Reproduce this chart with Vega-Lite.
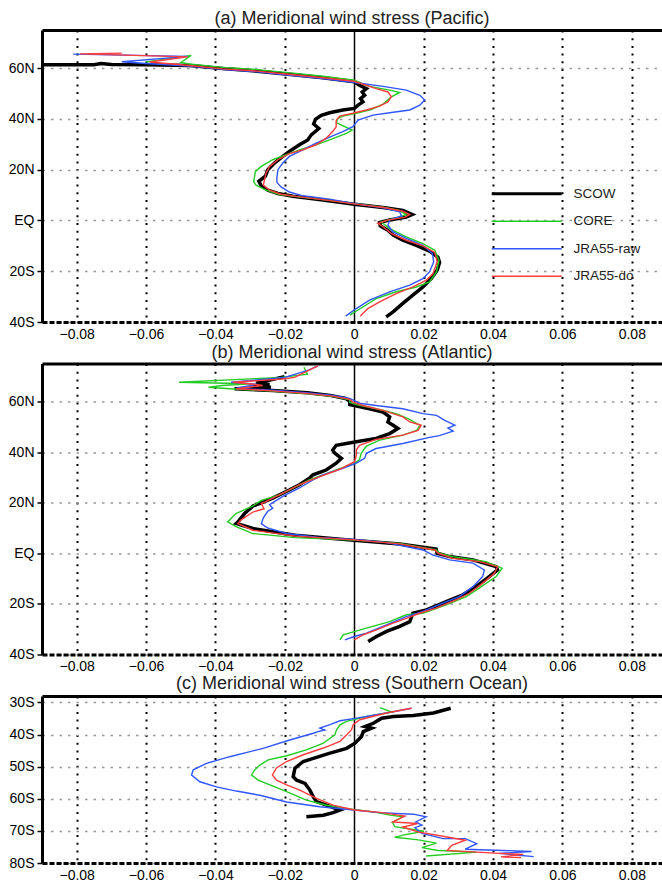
{
"$schema": "https://vega.github.io/schema/vega-lite/v6.json",
"padding": {"left": 8, "top": 10, "right": 0, "bottom": 0},
"bounds": "flush",
"spacing": 41.5,
"config": {
  "font": "Liberation Sans",
  "view": {"stroke": null},
  "title": {"font": "Liberation Sans", "fontSize": 18, "fontWeight": "normal", "color": "#222", "offset": 2, "anchor": "middle"},
  "axis": {"labelFont": "Liberation Sans", "labelFontSize": 14, "labelColor": "#000", "labelFlush": false, "labelOverlap": false}
},
"resolve": {"scale": {"color": "independent"}, "legend": {"color": "independent"}},
"datasets": {
"pac": [
{"s":"SCOW","t":-0.092,"lat":61.3},{"s":"SCOW","t":-0.075,"lat":61.3},{"s":"SCOW","t":-0.073,"lat":61.8},{"s":"SCOW","t":-0.07,"lat":61.4},{"s":"SCOW","t":-0.06,"lat":61.3},{"s":"SCOW","t":-0.0475,"lat":61.0},{"s":"SCOW","t":-0.038,"lat":59.8},{"s":"SCOW","t":-0.028,"lat":58.8},{"s":"SCOW","t":-0.019,"lat":57.6},{"s":"SCOW","t":-0.009,"lat":56.2},{"s":"SCOW","t":0,"lat":54.6},{"s":"SCOW","t":0.0015,"lat":53.2},{"s":"SCOW","t":0.0035,"lat":51.9},{"s":"SCOW","t":0.0023,"lat":50.6},{"s":"SCOW","t":0.003,"lat":49.3},{"s":"SCOW","t":0.0018,"lat":48.0},{"s":"SCOW","t":0.0025,"lat":46.7},{"s":"SCOW","t":0.0011,"lat":45.4},{"s":"SCOW","t":0,"lat":44.1},{"s":"SCOW","t":-0.0033,"lat":43.5},{"s":"SCOW","t":-0.0071,"lat":42.4},{"s":"SCOW","t":-0.0095,"lat":41.4},{"s":"SCOW","t":-0.0112,"lat":39.8},{"s":"SCOW","t":-0.0117,"lat":38.0},{"s":"SCOW","t":-0.0102,"lat":36.2},{"s":"SCOW","t":-0.0124,"lat":33.7},{"s":"SCOW","t":-0.0134,"lat":31.7},{"s":"SCOW","t":-0.0158,"lat":29.8},{"s":"SCOW","t":-0.0187,"lat":27.2},{"s":"SCOW","t":-0.0206,"lat":25.2},{"s":"SCOW","t":-0.023,"lat":22.6},{"s":"SCOW","t":-0.0249,"lat":20.0},{"s":"SCOW","t":-0.0256,"lat":17.4},{"s":"SCOW","t":-0.0275,"lat":15.4},{"s":"SCOW","t":-0.0268,"lat":13.6},{"s":"SCOW","t":-0.0249,"lat":11.9},{"s":"SCOW","t":-0.022,"lat":10.6},{"s":"SCOW","t":-0.0177,"lat":9.5},{"s":"SCOW","t":-0.009,"lat":8.0},{"s":"SCOW","t":0,"lat":6.4},{"s":"SCOW","t":0.0083,"lat":5.1},{"s":"SCOW","t":0.014,"lat":3.9},{"s":"SCOW","t":0.0167,"lat":2.3},{"s":"SCOW","t":0.015,"lat":1.3},{"s":"SCOW","t":0.0102,"lat":0.2},{"s":"SCOW","t":0.0073,"lat":-0.8},{"s":"SCOW","t":0.0075,"lat":-2.1},{"s":"SCOW","t":0.0097,"lat":-3.9},{"s":"SCOW","t":0.0112,"lat":-5.8},{"s":"SCOW","t":0.014,"lat":-7.8},{"s":"SCOW","t":0.0179,"lat":-9.8},{"s":"SCOW","t":0.0217,"lat":-12.1},{"s":"SCOW","t":0.0241,"lat":-14.4},{"s":"SCOW","t":0.0246,"lat":-16.6},{"s":"SCOW","t":0.0239,"lat":-19.6},{"s":"SCOW","t":0.0222,"lat":-22.9},{"s":"SCOW","t":0.0198,"lat":-26.2},{"s":"SCOW","t":0.0169,"lat":-29.4},{"s":"SCOW","t":0.014,"lat":-32.7},{"s":"SCOW","t":0.0112,"lat":-36.0},{"s":"SCOW","t":0.0092,"lat":-38.0},
{"s":"CORE","t":-0.06,"lat":62.4},{"s":"CORE","t":-0.047,"lat":65.0},{"s":"CORE","t":-0.05,"lat":62.2},{"s":"CORE","t":-0.0475,"lat":61.6},{"s":"CORE","t":-0.038,"lat":60.3},{"s":"CORE","t":-0.028,"lat":59.4},{"s":"CORE","t":-0.019,"lat":58.2},{"s":"CORE","t":-0.009,"lat":56.8},{"s":"CORE","t":0,"lat":55.2},{"s":"CORE","t":0.0044,"lat":52.8},{"s":"CORE","t":0.0102,"lat":51.3},{"s":"CORE","t":0.0131,"lat":50.4},{"s":"CORE","t":0.0107,"lat":48.7},{"s":"CORE","t":0.0083,"lat":45.8},{"s":"CORE","t":0.0049,"lat":43.7},{"s":"CORE","t":0.0006,"lat":42.2},{"s":"CORE","t":-0.0033,"lat":41.1},{"s":"CORE","t":-0.0047,"lat":40.2},{"s":"CORE","t":-0.0052,"lat":38.5},{"s":"CORE","t":-0.0006,"lat":35.6},{"s":"CORE","t":-0.0023,"lat":34.3},{"s":"CORE","t":-0.0071,"lat":31.7},{"s":"CORE","t":-0.011,"lat":29.8},{"s":"CORE","t":-0.0158,"lat":27.8},{"s":"CORE","t":-0.0196,"lat":25.9},{"s":"CORE","t":-0.0235,"lat":23.9},{"s":"CORE","t":-0.0268,"lat":21.3},{"s":"CORE","t":-0.0285,"lat":19.3},{"s":"CORE","t":-0.0288,"lat":16.7},{"s":"CORE","t":-0.029,"lat":15.2},{"s":"CORE","t":-0.0283,"lat":13.9},{"s":"CORE","t":-0.0254,"lat":11.9},{"s":"CORE","t":-0.0215,"lat":10.2},{"s":"CORE","t":-0.016,"lat":9.3},{"s":"CORE","t":-0.009,"lat":8.2},{"s":"CORE","t":0,"lat":6.6},{"s":"CORE","t":0.0083,"lat":5.2},{"s":"CORE","t":0.013,"lat":3.9},{"s":"CORE","t":0.015,"lat":2.3},{"s":"CORE","t":0.012,"lat":1.0},{"s":"CORE","t":0.0078,"lat":-0.6},{"s":"CORE","t":0.0102,"lat":-3.2},{"s":"CORE","t":0.015,"lat":-6.5},{"s":"CORE","t":0.0198,"lat":-9.1},{"s":"CORE","t":0.0232,"lat":-11.7},{"s":"CORE","t":0.0244,"lat":-15.7},{"s":"CORE","t":0.0237,"lat":-20.3},{"s":"CORE","t":0.0217,"lat":-24.2},{"s":"CORE","t":0.0179,"lat":-26.2},{"s":"CORE","t":0.0121,"lat":-28.1},{"s":"CORE","t":0.0063,"lat":-30.8},{"s":"CORE","t":0.0025,"lat":-34.1},{"s":"CORE","t":-0.0013,"lat":-37.3},
{"s":"JRA55-raw","t":-0.081,"lat":65.5},{"s":"JRA55-raw","t":-0.048,"lat":64.6},{"s":"JRA55-raw","t":-0.067,"lat":62.5},{"s":"JRA55-raw","t":-0.06,"lat":61.8},{"s":"JRA55-raw","t":-0.0475,"lat":60.8},{"s":"JRA55-raw","t":-0.038,"lat":59.5},{"s":"JRA55-raw","t":-0.028,"lat":58.5},{"s":"JRA55-raw","t":-0.019,"lat":57.3},{"s":"JRA55-raw","t":-0.009,"lat":55.9},{"s":"JRA55-raw","t":0,"lat":54.3},{"s":"JRA55-raw","t":0.0083,"lat":52.8},{"s":"JRA55-raw","t":0.015,"lat":51.3},{"s":"JRA55-raw","t":0.0189,"lat":49.3},{"s":"JRA55-raw","t":0.0203,"lat":47.4},{"s":"JRA55-raw","t":0.0189,"lat":45.4},{"s":"JRA55-raw","t":0.016,"lat":43.5},{"s":"JRA55-raw","t":0.0102,"lat":42.4},{"s":"JRA55-raw","t":0.0054,"lat":41.5},{"s":"JRA55-raw","t":0.0011,"lat":39.5},{"s":"JRA55-raw","t":-0.0004,"lat":36.9},{"s":"JRA55-raw","t":-0.0033,"lat":35.0},{"s":"JRA55-raw","t":-0.0071,"lat":32.8},{"s":"JRA55-raw","t":-0.011,"lat":30.4},{"s":"JRA55-raw","t":-0.0148,"lat":27.8},{"s":"JRA55-raw","t":-0.0187,"lat":25.2},{"s":"JRA55-raw","t":-0.0206,"lat":22.6},{"s":"JRA55-raw","t":-0.022,"lat":20.0},{"s":"JRA55-raw","t":-0.0223,"lat":16.7},{"s":"JRA55-raw","t":-0.0223,"lat":15.0},{"s":"JRA55-raw","t":-0.0211,"lat":13.2},{"s":"JRA55-raw","t":-0.0187,"lat":11.2},{"s":"JRA55-raw","t":-0.0148,"lat":9.7},{"s":"JRA55-raw","t":-0.0071,"lat":8.4},{"s":"JRA55-raw","t":0,"lat":6.6},{"s":"JRA55-raw","t":0.0083,"lat":5.0},{"s":"JRA55-raw","t":0.0131,"lat":3.4},{"s":"JRA55-raw","t":0.0136,"lat":1.8},{"s":"JRA55-raw","t":0.0102,"lat":0.2},{"s":"JRA55-raw","t":0.0097,"lat":-1.9},{"s":"JRA55-raw","t":0.0112,"lat":-4.5},{"s":"JRA55-raw","t":0.015,"lat":-7.1},{"s":"JRA55-raw","t":0.0198,"lat":-9.8},{"s":"JRA55-raw","t":0.0225,"lat":-13.0},{"s":"JRA55-raw","t":0.0229,"lat":-16.3},{"s":"JRA55-raw","t":0.0217,"lat":-20.3},{"s":"JRA55-raw","t":0.0198,"lat":-22.9},{"s":"JRA55-raw","t":0.016,"lat":-25.5},{"s":"JRA55-raw","t":0.0102,"lat":-28.1},{"s":"JRA55-raw","t":0.0044,"lat":-31.4},{"s":"JRA55-raw","t":0.0006,"lat":-34.7},{"s":"JRA55-raw","t":-0.0025,"lat":-37.7},
{"s":"JRA55-do","t":-0.067,"lat":65.9},{"s":"JRA55-do","t":-0.079,"lat":65.6},{"s":"JRA55-do","t":-0.048,"lat":64.4},{"s":"JRA55-do","t":-0.059,"lat":62.4},{"s":"JRA55-do","t":-0.0475,"lat":61.0},{"s":"JRA55-do","t":-0.038,"lat":59.7},{"s":"JRA55-do","t":-0.028,"lat":58.8},{"s":"JRA55-do","t":-0.019,"lat":57.6},{"s":"JRA55-do","t":-0.009,"lat":56.2},{"s":"JRA55-do","t":0,"lat":54.8},{"s":"JRA55-do","t":0.0063,"lat":51.9},{"s":"JRA55-do","t":0.0097,"lat":50.6},{"s":"JRA55-do","t":0.0107,"lat":48.7},{"s":"JRA55-do","t":0.0097,"lat":46.7},{"s":"JRA55-do","t":0.0073,"lat":45.0},{"s":"JRA55-do","t":0.0035,"lat":43.5},{"s":"JRA55-do","t":-0.0004,"lat":42.2},{"s":"JRA55-do","t":-0.0042,"lat":41.1},{"s":"JRA55-do","t":-0.0052,"lat":39.5},{"s":"JRA55-do","t":-0.0052,"lat":36.9},{"s":"JRA55-do","t":-0.0062,"lat":35.0},{"s":"JRA55-do","t":-0.0081,"lat":32.4},{"s":"JRA55-do","t":-0.011,"lat":29.8},{"s":"JRA55-do","t":-0.0148,"lat":27.8},{"s":"JRA55-do","t":-0.0187,"lat":26.3},{"s":"JRA55-do","t":-0.022,"lat":23.9},{"s":"JRA55-do","t":-0.0244,"lat":21.3},{"s":"JRA55-do","t":-0.0254,"lat":18.7},{"s":"JRA55-do","t":-0.0259,"lat":15.8},{"s":"JRA55-do","t":-0.0262,"lat":13.9},{"s":"JRA55-do","t":-0.0244,"lat":11.9},{"s":"JRA55-do","t":-0.0211,"lat":10.3},{"s":"JRA55-do","t":-0.0158,"lat":9.3},{"s":"JRA55-do","t":-0.008,"lat":8.0},{"s":"JRA55-do","t":0,"lat":6.5},{"s":"JRA55-do","t":0.0085,"lat":5.1},{"s":"JRA55-do","t":0.014,"lat":3.6},{"s":"JRA55-do","t":0.016,"lat":2.3},{"s":"JRA55-do","t":0.0145,"lat":1.2},{"s":"JRA55-do","t":0.0095,"lat":0.1},{"s":"JRA55-do","t":0.0068,"lat":-1.2},{"s":"JRA55-do","t":0.0083,"lat":-2.5},{"s":"JRA55-do","t":0.0107,"lat":-5.2},{"s":"JRA55-do","t":0.015,"lat":-7.8},{"s":"JRA55-do","t":0.0198,"lat":-10.0},{"s":"JRA55-do","t":0.0232,"lat":-12.6},{"s":"JRA55-do","t":0.0239,"lat":-16.3},{"s":"JRA55-do","t":0.0227,"lat":-20.9},{"s":"JRA55-do","t":0.0208,"lat":-23.5},{"s":"JRA55-do","t":0.0169,"lat":-26.2},{"s":"JRA55-do","t":0.0121,"lat":-28.8},{"s":"JRA55-do","t":0.0073,"lat":-32.1},{"s":"JRA55-do","t":0.0039,"lat":-34.7},{"s":"JRA55-do","t":0.0017,"lat":-37.7}
],
"atl": [
{"s":"SCOW","t":-0.0201,"lat":69.8},{"s":"SCOW","t":-0.0283,"lat":67.2},{"s":"SCOW","t":-0.0244,"lat":66.7},{"s":"SCOW","t":-0.0292,"lat":66.1},{"s":"SCOW","t":-0.024,"lat":65.6},{"s":"SCOW","t":-0.0345,"lat":65.0},{"s":"SCOW","t":-0.0235,"lat":64.3},{"s":"SCOW","t":-0.0135,"lat":63.4},{"s":"SCOW","t":-0.007,"lat":62.4},{"s":"SCOW","t":-0.0025,"lat":61.2},{"s":"SCOW","t":-0.0013,"lat":60.1},{"s":"SCOW","t":-0.0013,"lat":58.8},{"s":"SCOW","t":0.0044,"lat":57.1},{"s":"SCOW","t":0.0083,"lat":55.8},{"s":"SCOW","t":0.0102,"lat":53.9},{"s":"SCOW","t":0.0097,"lat":51.9},{"s":"SCOW","t":0.0112,"lat":50.6},{"s":"SCOW","t":0.0126,"lat":49.3},{"s":"SCOW","t":0.0102,"lat":47.3},{"s":"SCOW","t":0.0063,"lat":45.4},{"s":"SCOW","t":0.0006,"lat":44.1},{"s":"SCOW","t":-0.0052,"lat":42.7},{"s":"SCOW","t":-0.0062,"lat":40.8},{"s":"SCOW","t":-0.0057,"lat":39.7},{"s":"SCOW","t":-0.0037,"lat":37.5},{"s":"SCOW","t":-0.0052,"lat":35.6},{"s":"SCOW","t":-0.0081,"lat":32.9},{"s":"SCOW","t":-0.0119,"lat":31.0},{"s":"SCOW","t":-0.0129,"lat":29.7},{"s":"SCOW","t":-0.0158,"lat":27.1},{"s":"SCOW","t":-0.0196,"lat":24.4},{"s":"SCOW","t":-0.0235,"lat":21.8},{"s":"SCOW","t":-0.0268,"lat":19.9},{"s":"SCOW","t":-0.0292,"lat":18.7},{"s":"SCOW","t":-0.0316,"lat":15.7},{"s":"SCOW","t":-0.0335,"lat":12.4},{"s":"SCOW","t":-0.034,"lat":11.8},{"s":"SCOW","t":-0.0292,"lat":9.8},{"s":"SCOW","t":-0.017,"lat":7.1},{"s":"SCOW","t":0,"lat":5.1},{"s":"SCOW","t":0.0131,"lat":3.7},{"s":"SCOW","t":0.0236,"lat":1.7},{"s":"SCOW","t":0.0239,"lat":0},{"s":"SCOW","t":0.0275,"lat":-1.3},{"s":"SCOW","t":0.0342,"lat":-2.6},{"s":"SCOW","t":0.0409,"lat":-5.3},{"s":"SCOW","t":0.0413,"lat":-6.6},{"s":"SCOW","t":0.0389,"lat":-9.2},{"s":"SCOW","t":0.0351,"lat":-13.2},{"s":"SCOW","t":0.0313,"lat":-16.4},{"s":"SCOW","t":0.0265,"lat":-19.1},{"s":"SCOW","t":0.0208,"lat":-22.4},{"s":"SCOW","t":0.0169,"lat":-23.7},{"s":"SCOW","t":0.016,"lat":-27.0},{"s":"SCOW","t":0.0131,"lat":-28.9},{"s":"SCOW","t":0.0093,"lat":-30.9},{"s":"SCOW","t":0.0064,"lat":-32.9},{"s":"SCOW","t":0.004,"lat":-34.9},
{"s":"CORE","t":-0.0145,"lat":73.5},{"s":"CORE","t":-0.0135,"lat":70.8},{"s":"CORE","t":-0.021,"lat":69.5},{"s":"CORE","t":-0.0505,"lat":67.6},{"s":"CORE","t":-0.03,"lat":67.0},{"s":"CORE","t":-0.038,"lat":66.3},{"s":"CORE","t":-0.042,"lat":65.6},{"s":"CORE","t":-0.036,"lat":65.0},{"s":"CORE","t":-0.0235,"lat":64.1},{"s":"CORE","t":-0.0139,"lat":63.1},{"s":"CORE","t":-0.0062,"lat":62.0},{"s":"CORE","t":-0.0013,"lat":60.6},{"s":"CORE","t":-0.0013,"lat":59.7},{"s":"CORE","t":0.0006,"lat":58.8},{"s":"CORE","t":0.0063,"lat":57.1},{"s":"CORE","t":0.0121,"lat":55.2},{"s":"CORE","t":0.0155,"lat":53.2},{"s":"CORE","t":0.0189,"lat":50.6},{"s":"CORE","t":0.018,"lat":48.6},{"s":"CORE","t":0.014,"lat":46.7},{"s":"CORE","t":0.0073,"lat":44.7},{"s":"CORE","t":0.0035,"lat":42.4},{"s":"CORE","t":0.002,"lat":39.5},{"s":"CORE","t":0.0015,"lat":36.9},{"s":"CORE","t":0.0001,"lat":35.6},{"s":"CORE","t":-0.0052,"lat":32.9},{"s":"CORE","t":-0.0129,"lat":29.0},{"s":"CORE","t":-0.0167,"lat":26.4},{"s":"CORE","t":-0.0215,"lat":23.1},{"s":"CORE","t":-0.0268,"lat":20.9},{"s":"CORE","t":-0.0292,"lat":18.7},{"s":"CORE","t":-0.0341,"lat":15.7},{"s":"CORE","t":-0.0365,"lat":12.4},{"s":"CORE","t":-0.0341,"lat":10.5},{"s":"CORE","t":-0.0292,"lat":7.8},{"s":"CORE","t":-0.017,"lat":6.2},{"s":"CORE","t":0,"lat":5.2},{"s":"CORE","t":0.0131,"lat":3.9},{"s":"CORE","t":0.0236,"lat":1.3},{"s":"CORE","t":0.0246,"lat":0},{"s":"CORE","t":0.0284,"lat":-1.3},{"s":"CORE","t":0.038,"lat":-3.3},{"s":"CORE","t":0.0426,"lat":-5.9},{"s":"CORE","t":0.0409,"lat":-9.2},{"s":"CORE","t":0.0366,"lat":-13.2},{"s":"CORE","t":0.0323,"lat":-17.1},{"s":"CORE","t":0.0265,"lat":-20.4},{"s":"CORE","t":0.0198,"lat":-23.7},{"s":"CORE","t":0.015,"lat":-24.3},{"s":"CORE","t":0.0102,"lat":-27.0},{"s":"CORE","t":0.0035,"lat":-29.6},{"s":"CORE","t":-0.0032,"lat":-32.2},{"s":"CORE","t":-0.0041,"lat":-34.2},
{"s":"JRA55-raw","t":-0.0105,"lat":74.1},{"s":"JRA55-raw","t":-0.013,"lat":72.5},{"s":"JRA55-raw","t":-0.02,"lat":69.5},{"s":"JRA55-raw","t":-0.0355,"lat":67.6},{"s":"JRA55-raw","t":-0.028,"lat":66.8},{"s":"JRA55-raw","t":-0.034,"lat":65.2},{"s":"JRA55-raw","t":-0.0235,"lat":64.4},{"s":"JRA55-raw","t":-0.0139,"lat":63.5},{"s":"JRA55-raw","t":-0.0062,"lat":62.4},{"s":"JRA55-raw","t":-0.0013,"lat":61.2},{"s":"JRA55-raw","t":0.0015,"lat":59.3},{"s":"JRA55-raw","t":0.0063,"lat":58.4},{"s":"JRA55-raw","t":0.014,"lat":57.1},{"s":"JRA55-raw","t":0.0198,"lat":55.2},{"s":"JRA55-raw","t":0.0237,"lat":54.5},{"s":"JRA55-raw","t":0.0261,"lat":52.5},{"s":"JRA55-raw","t":0.029,"lat":50.6},{"s":"JRA55-raw","t":0.027,"lat":49.5},{"s":"JRA55-raw","t":0.0285,"lat":48.3},{"s":"JRA55-raw","t":0.0245,"lat":46.5},{"s":"JRA55-raw","t":0.0217,"lat":45.8},{"s":"JRA55-raw","t":0.014,"lat":43.4},{"s":"JRA55-raw","t":0.0063,"lat":41.4},{"s":"JRA55-raw","t":0.0035,"lat":39.5},{"s":"JRA55-raw","t":0.003,"lat":37.5},{"s":"JRA55-raw","t":0.0006,"lat":35.6},{"s":"JRA55-raw","t":-0.0033,"lat":33.6},{"s":"JRA55-raw","t":-0.009,"lat":31.0},{"s":"JRA55-raw","t":-0.0119,"lat":29.0},{"s":"JRA55-raw","t":-0.0158,"lat":25.8},{"s":"JRA55-raw","t":-0.0206,"lat":22.5},{"s":"JRA55-raw","t":-0.0244,"lat":19.2},{"s":"JRA55-raw","t":-0.0235,"lat":17.8},{"s":"JRA55-raw","t":-0.025,"lat":16.5},{"s":"JRA55-raw","t":-0.0262,"lat":14.0},{"s":"JRA55-raw","t":-0.0268,"lat":11.7},{"s":"JRA55-raw","t":-0.025,"lat":10.0},{"s":"JRA55-raw","t":-0.0195,"lat":7.8},{"s":"JRA55-raw","t":-0.0097,"lat":6.2},{"s":"JRA55-raw","t":0,"lat":5.5},{"s":"JRA55-raw","t":0.0093,"lat":4.2},{"s":"JRA55-raw","t":0.0198,"lat":1.3},{"s":"JRA55-raw","t":0.0227,"lat":-0.7},{"s":"JRA55-raw","t":0.0275,"lat":-2.6},{"s":"JRA55-raw","t":0.0342,"lat":-3.9},{"s":"JRA55-raw","t":0.0375,"lat":-6.6},{"s":"JRA55-raw","t":0.037,"lat":-9.2},{"s":"JRA55-raw","t":0.0342,"lat":-13.2},{"s":"JRA55-raw","t":0.0303,"lat":-17.1},{"s":"JRA55-raw","t":0.0255,"lat":-19.7},{"s":"JRA55-raw","t":0.0198,"lat":-23.0},{"s":"JRA55-raw","t":0.015,"lat":-25.0},{"s":"JRA55-raw","t":0.0093,"lat":-28.3},{"s":"JRA55-raw","t":0.0035,"lat":-31.6},{"s":"JRA55-raw","t":0,"lat":-32.9},{"s":"JRA55-raw","t":-0.0027,"lat":-34.2},
{"s":"JRA55-do","t":-0.0105,"lat":74.1},{"s":"JRA55-do","t":-0.0172,"lat":69.5},{"s":"JRA55-do","t":-0.0206,"lat":68.9},{"s":"JRA55-do","t":-0.035,"lat":67.6},{"s":"JRA55-do","t":-0.029,"lat":66.8},{"s":"JRA55-do","t":-0.0264,"lat":66.3},{"s":"JRA55-do","t":-0.034,"lat":65.0},{"s":"JRA55-do","t":-0.0235,"lat":64.2},{"s":"JRA55-do","t":-0.0139,"lat":63.2},{"s":"JRA55-do","t":-0.0062,"lat":62.1},{"s":"JRA55-do","t":-0.0013,"lat":60.8},{"s":"JRA55-do","t":-0.0004,"lat":59.7},{"s":"JRA55-do","t":0.0025,"lat":58.4},{"s":"JRA55-do","t":0.0083,"lat":56.5},{"s":"JRA55-do","t":0.014,"lat":53.9},{"s":"JRA55-do","t":0.016,"lat":51.9},{"s":"JRA55-do","t":0.0193,"lat":50.6},{"s":"JRA55-do","t":0.0184,"lat":48.6},{"s":"JRA55-do","t":0.014,"lat":46.7},{"s":"JRA55-do","t":0.0063,"lat":45.0},{"s":"JRA55-do","t":0.0015,"lat":42.7},{"s":"JRA55-do","t":0.0006,"lat":40.8},{"s":"JRA55-do","t":0.0006,"lat":38.8},{"s":"JRA55-do","t":0.0001,"lat":36.2},{"s":"JRA55-do","t":-0.0042,"lat":33.2},{"s":"JRA55-do","t":-0.011,"lat":29.7},{"s":"JRA55-do","t":-0.0158,"lat":27.1},{"s":"JRA55-do","t":-0.0206,"lat":23.8},{"s":"JRA55-do","t":-0.0254,"lat":20.5},{"s":"JRA55-do","t":-0.0268,"lat":19.6},{"s":"JRA55-do","t":-0.026,"lat":17.6},{"s":"JRA55-do","t":-0.0292,"lat":16.3},{"s":"JRA55-do","t":-0.0328,"lat":13.0},{"s":"JRA55-do","t":-0.0335,"lat":11.7},{"s":"JRA55-do","t":-0.0292,"lat":9.1},{"s":"JRA55-do","t":-0.017,"lat":6.8},{"s":"JRA55-do","t":0,"lat":5.3},{"s":"JRA55-do","t":0.0131,"lat":3.7},{"s":"JRA55-do","t":0.0232,"lat":1.3},{"s":"JRA55-do","t":0.0242,"lat":0},{"s":"JRA55-do","t":0.0284,"lat":-2.0},{"s":"JRA55-do","t":0.0361,"lat":-3.3},{"s":"JRA55-do","t":0.0413,"lat":-5.3},{"s":"JRA55-do","t":0.0404,"lat":-7.9},{"s":"JRA55-do","t":0.037,"lat":-11.8},{"s":"JRA55-do","t":0.0332,"lat":-15.8},{"s":"JRA55-do","t":0.0294,"lat":-18.4},{"s":"JRA55-do","t":0.0236,"lat":-21.7},{"s":"JRA55-do","t":0.0188,"lat":-23.7},{"s":"JRA55-do","t":0.015,"lat":-25.7},{"s":"JRA55-do","t":0.0112,"lat":-27.6},{"s":"JRA55-do","t":0.0064,"lat":-30.3},{"s":"JRA55-do","t":0.0026,"lat":-32.2},{"s":"JRA55-do","t":0,"lat":-34.2}
],
"so": [
{"s":"SCOW","t":0.0278,"lat":-31.8},{"s":"SCOW","t":0.0228,"lat":-33.3},{"s":"SCOW","t":0.017,"lat":-34.1},{"s":"SCOW","t":0.0113,"lat":-34.4},{"s":"SCOW","t":0.0079,"lat":-34.9},{"s":"SCOW","t":0.0055,"lat":-36.5},{"s":"SCOW","t":0.0031,"lat":-37.5},{"s":"SCOW","t":0.005,"lat":-38.0},{"s":"SCOW","t":0.0026,"lat":-39.1},{"s":"SCOW","t":0.0021,"lat":-40.6},{"s":"SCOW","t":0.0002,"lat":-42.7},{"s":"SCOW","t":-0.0022,"lat":-44.3},{"s":"SCOW","t":-0.007,"lat":-45.8},{"s":"SCOW","t":-0.0118,"lat":-47.4},{"s":"SCOW","t":-0.0147,"lat":-48.4},{"s":"SCOW","t":-0.0171,"lat":-50.5},{"s":"SCOW","t":-0.0176,"lat":-53.1},{"s":"SCOW","t":-0.0166,"lat":-54.2},{"s":"SCOW","t":-0.0142,"lat":-55.2},{"s":"SCOW","t":-0.0128,"lat":-57.3},{"s":"SCOW","t":-0.0118,"lat":-59.4},{"s":"SCOW","t":-0.0109,"lat":-60.9},{"s":"SCOW","t":-0.008,"lat":-62.0},{"s":"SCOW","t":-0.0041,"lat":-63.5},{"s":"SCOW","t":-0.0061,"lat":-64.3},{"s":"SCOW","t":-0.0089,"lat":-65.1},{"s":"SCOW","t":-0.0138,"lat":-65.6},
{"s":"CORE","t":0.0074,"lat":-31.6},{"s":"CORE","t":0.0108,"lat":-33.0},{"s":"CORE","t":0.0036,"lat":-34.4},{"s":"CORE","t":-0.0022,"lat":-35.9},{"s":"CORE","t":-0.0041,"lat":-37.0},{"s":"CORE","t":-0.0051,"lat":-38.5},{"s":"CORE","t":-0.0056,"lat":-40.1},{"s":"CORE","t":-0.0089,"lat":-42.7},{"s":"CORE","t":-0.0138,"lat":-44.8},{"s":"CORE","t":-0.0195,"lat":-46.6},{"s":"CORE","t":-0.0248,"lat":-47.9},{"s":"CORE","t":-0.0272,"lat":-49.5},{"s":"CORE","t":-0.0287,"lat":-51.0},{"s":"CORE","t":-0.0296,"lat":-52.6},{"s":"CORE","t":-0.0277,"lat":-54.2},{"s":"CORE","t":-0.0243,"lat":-55.7},{"s":"CORE","t":-0.0195,"lat":-57.8},{"s":"CORE","t":-0.0138,"lat":-60.4},{"s":"CORE","t":-0.008,"lat":-62.0},{"s":"CORE","t":-0.0003,"lat":-63.3},{"s":"CORE","t":0.0055,"lat":-64.1},{"s":"CORE","t":0.0103,"lat":-65.1},{"s":"CORE","t":0.014,"lat":-65.6},{"s":"CORE","t":0.011,"lat":-67.3},{"s":"CORE","t":0.0117,"lat":-68.7},{"s":"CORE","t":0.0201,"lat":-70.1},{"s":"CORE","t":0.014,"lat":-71.3},{"s":"CORE","t":0.0117,"lat":-72.0},{"s":"CORE","t":0.0185,"lat":-72.8},{"s":"CORE","t":0.0237,"lat":-73.8},{"s":"CORE","t":0.0195,"lat":-75.2},{"s":"CORE","t":0.0241,"lat":-76.1},{"s":"CORE","t":0.0353,"lat":-76.6},{"s":"CORE","t":0.0207,"lat":-77.8},
{"s":"JRA55-raw","t":0.0165,"lat":-31.8},{"s":"JRA55-raw","t":0.0093,"lat":-33.3},{"s":"JRA55-raw","t":0.0007,"lat":-34.9},{"s":"JRA55-raw","t":-0.0041,"lat":-35.7},{"s":"JRA55-raw","t":-0.007,"lat":-36.9},{"s":"JRA55-raw","t":-0.0099,"lat":-38.0},{"s":"JRA55-raw","t":-0.0085,"lat":-38.6},{"s":"JRA55-raw","t":-0.0104,"lat":-39.1},{"s":"JRA55-raw","t":-0.0118,"lat":-39.6},{"s":"JRA55-raw","t":-0.0186,"lat":-41.7},{"s":"JRA55-raw","t":-0.0263,"lat":-44.3},{"s":"JRA55-raw","t":-0.0359,"lat":-46.9},{"s":"JRA55-raw","t":-0.0426,"lat":-49.0},{"s":"JRA55-raw","t":-0.0464,"lat":-51.0},{"s":"JRA55-raw","t":-0.0469,"lat":-52.6},{"s":"JRA55-raw","t":-0.0445,"lat":-54.7},{"s":"JRA55-raw","t":-0.0397,"lat":-56.3},{"s":"JRA55-raw","t":-0.034,"lat":-57.6},{"s":"JRA55-raw","t":-0.0272,"lat":-58.9},{"s":"JRA55-raw","t":-0.0195,"lat":-61.0},{"s":"JRA55-raw","t":-0.0099,"lat":-62.5},{"s":"JRA55-raw","t":0,"lat":-63.5},{"s":"JRA55-raw","t":0.0074,"lat":-64.3},{"s":"JRA55-raw","t":0.017,"lat":-64.8},{"s":"JRA55-raw","t":0.0207,"lat":-65.6},{"s":"JRA55-raw","t":0.0177,"lat":-67.2},{"s":"JRA55-raw","t":0.0195,"lat":-68.2},{"s":"JRA55-raw","t":0.0175,"lat":-69.0},{"s":"JRA55-raw","t":0.0195,"lat":-70.8},{"s":"JRA55-raw","t":0.0256,"lat":-72.4},{"s":"JRA55-raw","t":0.032,"lat":-72.4},{"s":"JRA55-raw","t":0.0353,"lat":-74.0},{"s":"JRA55-raw","t":0.032,"lat":-75.7},{"s":"JRA55-raw","t":0.0511,"lat":-76.4},{"s":"JRA55-raw","t":0.0417,"lat":-77.0},{"s":"JRA55-raw","t":0.0517,"lat":-78.0},
{"s":"JRA55-do","t":0.0165,"lat":-31.8},{"s":"JRA55-do","t":0.0093,"lat":-33.3},{"s":"JRA55-do","t":0.0016,"lat":-35.4},{"s":"JRA55-do","t":-0.0003,"lat":-36.9},{"s":"JRA55-do","t":-0.0008,"lat":-38.5},{"s":"JRA55-do","t":-0.0022,"lat":-40.1},{"s":"JRA55-do","t":-0.0041,"lat":-42.1},{"s":"JRA55-do","t":-0.0089,"lat":-44.2},{"s":"JRA55-do","t":-0.0147,"lat":-46.3},{"s":"JRA55-do","t":-0.0195,"lat":-48.4},{"s":"JRA55-do","t":-0.0224,"lat":-50.4},{"s":"JRA55-do","t":-0.0236,"lat":-52.6},{"s":"JRA55-do","t":-0.0224,"lat":-54.2},{"s":"JRA55-do","t":-0.0195,"lat":-55.7},{"s":"JRA55-do","t":-0.0157,"lat":-57.3},{"s":"JRA55-do","t":-0.0109,"lat":-59.9},{"s":"JRA55-do","t":-0.0061,"lat":-62.0},{"s":"JRA55-do","t":0,"lat":-63.5},{"s":"JRA55-do","t":0.008,"lat":-64.3},{"s":"JRA55-do","t":0.0146,"lat":-65.4},{"s":"JRA55-do","t":0.0111,"lat":-67.2},{"s":"JRA55-do","t":0.0183,"lat":-67.7},{"s":"JRA55-do","t":0.014,"lat":-68.8},{"s":"JRA55-do","t":0.0183,"lat":-70.3},{"s":"JRA55-do","t":0.0268,"lat":-71.9},{"s":"JRA55-do","t":0.032,"lat":-72.9},{"s":"JRA55-do","t":0.0281,"lat":-74.5},{"s":"JRA55-do","t":0.0268,"lat":-76.1},{"s":"JRA55-do","t":0.0417,"lat":-77.0},{"s":"JRA55-do","t":0.0487,"lat":-77.3},{"s":"JRA55-do","t":0.0423,"lat":-78.1},{"s":"JRA55-do","t":0.0481,"lat":-78.3}
]
},
"vconcat": [
{
  "title": "(a) Meridional wind stress (Pacific)",
  "width": 620, "height": 292,
  "data": {"name": "pac"},
  "resolve": {"axis": {"x": "independent"}},
  "encoding": {
    "y": {"field": "lat", "type": "quantitative", "scale": {"domain": [-40, 75], "nice": false, "zero": false},
      "axis": {"title": null, "values": [-40,-20,0,20,40,60], "labelExpr": "datum.value == 0 ? 'EQ' : (abs(datum.value) + (datum.value > 0 ? 'N' : 'S'))", "tickColor": "#000", "tickSize": 5, "tickWidth": 1.5, "labelPadding": 3, "domainColor": "#000", "domainWidth": 3, "grid": true, "gridColor": "#999", "gridDash": [2.5, 6], "gridWidth": 1.5}},
    "order": {"value": null}
  },
  "layer": [
    {
      "transform": [{"filter": "datum.s == 'SCOW'"}],
      "mark": {"type": "line", "clip": true, "color": "#000", "strokeWidth": 3.5},
      "encoding": {
        "x": {"field": "t", "type": "quantitative", "scale": {"domain": [-0.09, 0.0887], "nice": false, "zero": false},
          "axis": {"orient": "bottom", "title": null, "values": [-0.08,-0.06,-0.04,-0.02,0,0.02,0.04,0.06,0.08], "labelExpr": "datum.value == 0 ? '0' : format(datum.value, '.2f')", "ticks": false, "labelPadding": 5, "domainColor": "#000", "domainWidth": 3, "domainDash": [5, 2], "grid": true, "gridColor": "#000", "gridDash": {"condition": {"test": "datum.value == 0", "value": []}, "value": [2, 5.7]}, "gridWidth": {"condition": {"test": "datum.value == 0", "value": 1.5}, "value": 2}}}
      }
    },
    {
      "transform": [{"filter": "datum.s != 'SCOW'"}],
      "mark": {"type": "line", "clip": true, "strokeWidth": 1.4},
      "encoding": {
        "x": {"field": "t", "type": "quantitative", "scale": {"domain": [-0.09, 0.0887], "nice": false, "zero": false},
          "axis": {"orient": "top", "title": null, "labels": false, "ticks": false, "grid": false, "domainColor": "#000", "domainWidth": 3}},
        "color": {"field": "s", "type": "nominal",
          "scale": {"domain": ["SCOW","CORE","JRA55-raw","JRA55-do"], "range": ["#000000","#22cc22","#2f55ff","#ff3b3b"]},
          "legend": {"orient": "none", "legendX": 451, "legendY": 157, "title": null, "symbolType": "stroke", "symbolSize": 4900, "symbolStrokeWidth": 1.5, "symbolOffset": 27, "labelFont": "Liberation Sans", "labelFontSize": 13.5, "labelColor": "#222", "labelOffset": 40, "rowPadding": 12.5, "padding": 0,
            "encode": {"symbols": {"update": {"strokeWidth": {"signal": "datum.value === 'SCOW' ? 3 : 1.5"}}}}}}
      }
    }
  ]
},
{
  "title": "(b) Meridional wind stress (Atlantic)",
  "width": 620, "height": 291,
  "data": {"name": "atl"},
  "resolve": {"axis": {"x": "independent"}},
  "encoding": {
    "y": {"field": "lat", "type": "quantitative", "scale": {"domain": [-40, 75], "nice": false, "zero": false},
      "axis": {"title": null, "values": [-40,-20,0,20,40,60], "labelExpr": "datum.value == 0 ? 'EQ' : (abs(datum.value) + (datum.value > 0 ? 'N' : 'S'))", "tickColor": "#000", "tickSize": 5, "tickWidth": 1.5, "labelPadding": 3, "domainColor": "#000", "domainWidth": 3, "grid": true, "gridColor": "#999", "gridDash": [2.5, 6], "gridWidth": 1.5}},
    "order": {"value": null}
  },
  "layer": [
    {
      "transform": [{"filter": "datum.s == 'SCOW'"}],
      "mark": {"type": "line", "clip": true, "color": "#000", "strokeWidth": 3.5},
      "encoding": {
        "x": {"field": "t", "type": "quantitative", "scale": {"domain": [-0.09, 0.0887], "nice": false, "zero": false},
          "axis": {"orient": "bottom", "title": null, "values": [-0.08,-0.06,-0.04,-0.02,0,0.02,0.04,0.06,0.08], "labelExpr": "datum.value == 0 ? '0' : format(datum.value, '.2f')", "ticks": false, "labelPadding": 5, "domainColor": "#000", "domainWidth": 3, "domainDash": [5, 2], "grid": true, "gridColor": "#000", "gridDash": {"condition": {"test": "datum.value == 0", "value": []}, "value": [2, 5.7]}, "gridWidth": {"condition": {"test": "datum.value == 0", "value": 1.5}, "value": 2}}}
      }
    },
    {
      "transform": [{"filter": "datum.s != 'SCOW'"}],
      "mark": {"type": "line", "clip": true, "strokeWidth": 1.4},
      "encoding": {
        "x": {"field": "t", "type": "quantitative", "scale": {"domain": [-0.09, 0.0887], "nice": false, "zero": false},
          "axis": {"orient": "top", "title": null, "labels": false, "ticks": false, "grid": false, "domainColor": "#000", "domainWidth": 3}},
        "color": {"field": "s", "type": "nominal",
          "scale": {"domain": ["SCOW","CORE","JRA55-raw","JRA55-do"], "range": ["#000000","#22cc22","#2f55ff","#ff3b3b"]},
          "legend": null}
      }
    }
  ]
},
{
  "title": "(c) Meridional wind stress (Southern Ocean)",
  "width": 620, "height": 167,
  "data": {"name": "so"},
  "resolve": {"axis": {"x": "independent"}},
  "encoding": {
    "y": {"field": "lat", "type": "quantitative", "scale": {"domain": [-80, -28], "nice": false, "zero": false},
      "axis": {"title": null, "values": [-80,-70,-60,-50,-40,-30], "labelExpr": "abs(datum.value) + 'S'", "tickColor": "#000", "tickSize": 5, "tickWidth": 1.5, "labelPadding": 3, "domainColor": "#000", "domainWidth": 3, "grid": true, "gridColor": "#999", "gridDash": [2.5, 6], "gridWidth": 1.5}},
    "order": {"value": null}
  },
  "layer": [
    {
      "transform": [{"filter": "datum.s == 'SCOW'"}],
      "mark": {"type": "line", "clip": true, "color": "#000", "strokeWidth": 3.5},
      "encoding": {
        "x": {"field": "t", "type": "quantitative", "scale": {"domain": [-0.09, 0.0887], "nice": false, "zero": false},
          "axis": {"orient": "bottom", "title": null, "values": [-0.08,-0.06,-0.04,-0.02,0,0.02,0.04,0.06,0.08], "labelExpr": "datum.value == 0 ? '0' : format(datum.value, '.2f')", "ticks": false, "labelPadding": 5, "domainColor": "#000", "domainWidth": 3, "domainDash": [5, 2], "grid": true, "gridColor": "#000", "gridDash": {"condition": {"test": "datum.value == 0", "value": []}, "value": [2, 5.7]}, "gridWidth": {"condition": {"test": "datum.value == 0", "value": 1.5}, "value": 2}}}
      }
    },
    {
      "transform": [{"filter": "datum.s != 'SCOW'"}],
      "mark": {"type": "line", "clip": true, "strokeWidth": 1.4},
      "encoding": {
        "x": {"field": "t", "type": "quantitative", "scale": {"domain": [-0.09, 0.0887], "nice": false, "zero": false},
          "axis": {"orient": "top", "title": null, "labels": false, "ticks": false, "grid": false, "domainColor": "#000", "domainWidth": 3}},
        "color": {"field": "s", "type": "nominal",
          "scale": {"domain": ["SCOW","CORE","JRA55-raw","JRA55-do"], "range": ["#000000","#22cc22","#2f55ff","#ff3b3b"]},
          "legend": null}
      }
    }
  ]
}
]
}
